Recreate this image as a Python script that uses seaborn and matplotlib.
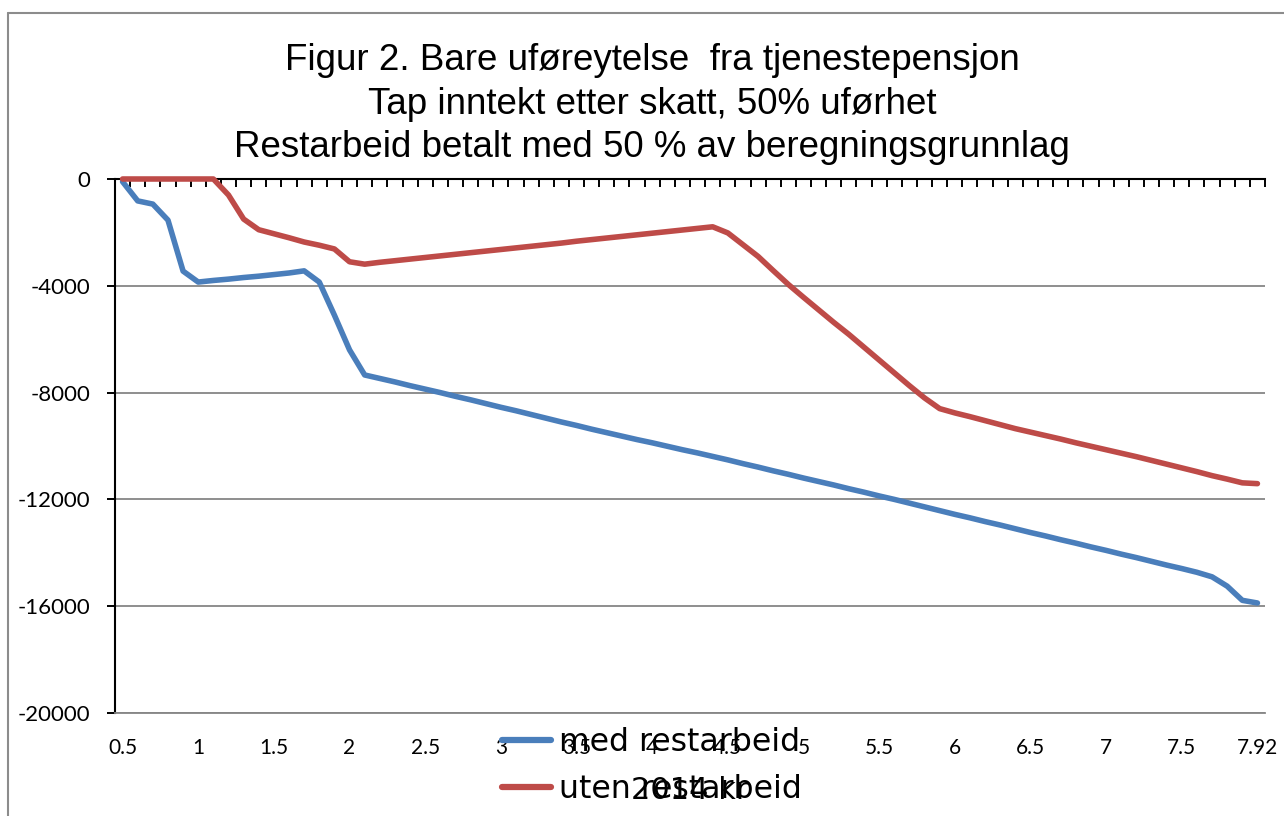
import matplotlib
matplotlib.use("Agg")
import matplotlib.pyplot as plt
import seaborn as sns
import pandas as pd
from matplotlib.lines import Line2D

# kategorier (x-aksen) - hver 0.1 fra 0.5 til 7.9, pluss 7.92
categories = ["0.5", "0.6", "0.7", "0.8", "0.9", "1", "1.1", "1.2", "1.3", "1.4",
              "1.5", "1.6", "1.7", "1.8", "1.9", "2", "2.1", "2.2", "2.3", "2.4",
              "2.5", "2.6", "2.7", "2.8", "2.9", "3", "3.1", "3.2", "3.3", "3.4",
              "3.5", "3.6", "3.7", "3.8", "3.9", "4", "4.1", "4.2", "4.3", "4.4",
              "4.5", "4.6", "4.7", "4.8", "4.9", "5", "5.1", "5.2", "5.3", "5.4",
              "5.5", "5.6", "5.7", "5.8", "5.9", "6", "6.1", "6.2", "6.3", "6.4",
              "6.5", "6.6", "6.7", "6.8", "6.9", "7", "7.1", "7.2", "7.3", "7.4",
              "7.5", "7.6", "7.7", "7.8", "7.9", "7.92"]

med_restarbeid = [-100, -820, -940, -1540, -3450, -3860, -3800, -3750, -3690, -3640,
                  -3580, -3520, -3440, -3860, -5100, -6400, -7340, -7470, -7600, -7740,
                  -7870, -8000, -8140, -8270, -8410, -8550, -8680, -8820, -8960, -9100,
                  -9230, -9370, -9500, -9630, -9760, -9880, -10010, -10140, -10260, -10390,
                  -10520, -10660, -10790, -10930, -11060, -11200, -11330, -11460, -11600, -11730,
                  -11870, -12000, -12140, -12280, -12420, -12560, -12690, -12830, -12960, -13100,
                  -13240, -13370, -13510, -13640, -13780, -13910, -14050, -14180, -14320, -14460,
                  -14590, -14730, -14900, -15250, -15780, -15880]

uten_restarbeid = [0, 0, 0, 0, 0, 0, 0, -600, -1500, -1900,
                   -2050, -2200, -2360, -2480, -2620, -3100, -3190, -3120, -3060, -3000,
                   -2940, -2880, -2820, -2760, -2700, -2640, -2580, -2520, -2460, -2400,
                   -2330, -2270, -2210, -2150, -2090, -2030, -1970, -1910, -1850, -1790,
                   -2020, -2460, -2900, -3430, -3950, -4430, -4900, -5370, -5820, -6300,
                   -6780, -7260, -7740, -8200, -8600, -8760, -8900, -9050, -9200, -9350,
                   -9480, -9610, -9740, -9880, -10010, -10140, -10270, -10400, -10540, -10680,
                   -10820, -10960, -11110, -11240, -11380, -11410]

series_names = ["med restarbeid", "uten restarbeid"]
series_colors = ["#4A7EBB", "#BE4B48"]

x_tick_labels = ["0.5", "1", "1.5", "2", "2.5", "3", "3.5", "4", "4.5", "5",
                 "5.5", "6", "6.5", "7", "7.5", "7.92"]
y_ticks = [0, -4000, -8000, -12000, -16000, -20000]

title = ("Figur 2. Bare uføreytelse  fra tjenestepensjon\n"
         "Tap inntekt etter skatt, 50% uførhet\n"
         "Restarbeid betalt med 50 % av beregningsgrunnlag")

df = pd.DataFrame({
    "x": categories * 2,
    "verdi": med_restarbeid + uten_restarbeid,
    "serie": [series_names[0]] * len(categories) + [series_names[1]] * len(categories),
})

sns.set_style("white")
plt.rcParams["font.family"] = ["Lato", "DejaVu Sans"]
plt.rcParams["text.color"] = "black"
plt.rcParams["xtick.color"] = "black"
plt.rcParams["ytick.color"] = "black"
plt.rcParams["axes.labelcolor"] = "black"

fig = plt.figure(figsize=(12.84, 8.16), dpi=100)
ax = fig.add_axes([115 / 1284, 1 - 713 / 816, 1150 / 1284, 534 / 816])

sns.lineplot(data=df, x="x", y="verdi", hue="serie", sort=False,
             palette=dict(zip(series_names, series_colors)),
             linewidth=4, ax=ax, zorder=3, clip_on=False)

ax.set_xlim(-0.5, len(categories) - 0.5)
ax.set_ylim(-20000, 0)

# tick labels at bottom
label_pos = [categories.index(l) for l in x_tick_labels]
ax.set_xticks(label_pos, labels=x_tick_labels)
ax.set_xticks([i - 0.5 for i in range(len(categories) + 1)], minor=True)
ax.tick_params(axis="x", which="major", length=0, labelsize=15, pad=18)
ax.tick_params(axis="x", which="minor", bottom=False, top=True, direction="in",
               length=6, width=1.4)

ax.set_yticks(y_ticks, labels=[str(v) for v in y_ticks])
ax.tick_params(axis="y", which="major", left=True, direction="out", length=5.5,
               width=1.4, labelsize=16, pad=12)

ax.yaxis.grid(True, color="#868686", linewidth=1.3)
ax.xaxis.grid(False)
ax.set_axisbelow(True)

for side in ["top", "left"]:
    ax.spines[side].set_color("black")
    ax.spines[side].set_linewidth(1.5)
ax.spines["right"].set_visible(False)
ax.spines["bottom"].set_color("#868686")
ax.spines["bottom"].set_linewidth(1.3)

ax.set_ylabel("")
ax.set_xlabel("2014 kr", fontsize=22, family="DejaVu Sans")
ax.xaxis.set_label_coords(0.5, -0.118)

handles, labels = ax.get_legend_handles_labels()
leg = ax.legend(handles, labels, loc="center left", bbox_to_anchor=(486 / 1284, 1 - 766 / 816),
                bbox_transform=fig.transFigure, frameon=False, handlelength=1.55,
                handletextpad=0.25, labelspacing=0.5, borderpad=0,
                prop={"family": "DejaVu Sans", "size": 22.7})
for h in leg.get_lines():
    h.set_linewidth(4.5)

fig.text(652 / 1284, 1 - 104 / 816, title, ha="center", va="center", fontsize=26.5,
         family="Liberation Sans", linespacing=1.3)

# ramme rundt figuren
fig.add_artist(Line2D([8 / 1284, 1], [1 - 13 / 816, 1 - 13 / 816], color="#8c8c8c", lw=1.5))
fig.add_artist(Line2D([8 / 1284, 8 / 1284], [0, 1 - 13 / 816], color="#8c8c8c", lw=1.5))

fig.savefig("out.png", dpi=100)
